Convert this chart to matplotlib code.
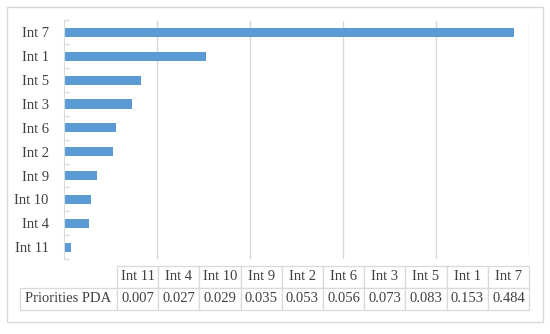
import matplotlib.pyplot as plt
from matplotlib.patches import Rectangle
import numpy as np

plt.rcParams['font.family'] = ['Liberation Serif', 'DejaVu Serif']

# data, ordered as in the table (bottom bar first)
categories = ['Int 11', 'Int 4', 'Int 10', 'Int 9', 'Int 2', 'Int 6', 'Int 3', 'Int 5', 'Int 1', 'Int 7']
priorities = [0.007, 0.027, 0.029, 0.035, 0.053, 0.056, 0.073, 0.083, 0.153, 0.484]
row_label = 'Priorities PDA'

bar_color = '#5B9BD5'
grid_color = '#D9D9D9'
text_color = '#404040'

fig = plt.figure(figsize=(5.5, 3.34), dpi=100)
W, H = 550, 334

# chart area border
fig.patches.append(Rectangle((7 / W, (H - 322) / H), 536 / W, 315 / H,
                             transform=fig.transFigure, fill=False,
                             edgecolor=grid_color, linewidth=1))

# plot area
ax = fig.add_axes([64 / W, (H - 259) / H, 465 / W, 238.5 / H])
y = np.arange(len(categories))
ax.barh(y, priorities, height=0.38, color=bar_color)
ax.set_xlim(0, 0.5)
ax.set_ylim(-0.5, len(categories) - 0.5)
ax.set_xticks(np.arange(0.1, 0.51, 0.1))
ax.xaxis.grid(True, color=grid_color, linewidth=1)
ax.set_axisbelow(True)
ax.tick_params(axis='x', length=0, labelbottom=False)
ax.set_yticks(y)
ax.set_yticklabels(categories, fontsize=10.5, color=text_color)
ax.tick_params(axis='y', which='major', length=0, pad=11)
ax.set_yticks(np.arange(-0.5, len(categories), 1), minor=True)
ax.tick_params(axis='y', which='minor', direction='in', length=3.5,
               color=grid_color, width=1)
for s in ['top', 'right', 'bottom']:
    ax.spines[s].set_visible(False)
ax.spines['left'].set_color(grid_color)

# data table under the plot
tab_ax = fig.add_axes([20 / W, (H - 310) / H, 509 / W, 44 / H])
tab_ax.axis('off')
cell_text = [[''] + categories, [row_label] + [f'{v:.3f}' for v in priorities]]
col_widths = [97] + [41.2] * len(categories)
col_widths = [c / sum(col_widths) for c in col_widths]
tab = tab_ax.table(cellText=cell_text, colWidths=col_widths, cellLoc='center',
                   bbox=[0, 0, 1, 1])
tab.auto_set_font_size(False)
tab.set_fontsize(10.5)
for (r, c), cell in tab.get_celld().items():
    cell.set_edgecolor(grid_color)
    cell.set_linewidth(0.9)
    cell.get_text().set_color(text_color)
    if r == 0 and c == 0:
        cell.visible_edges = ''

fig.savefig('out.png', dpi=100)
